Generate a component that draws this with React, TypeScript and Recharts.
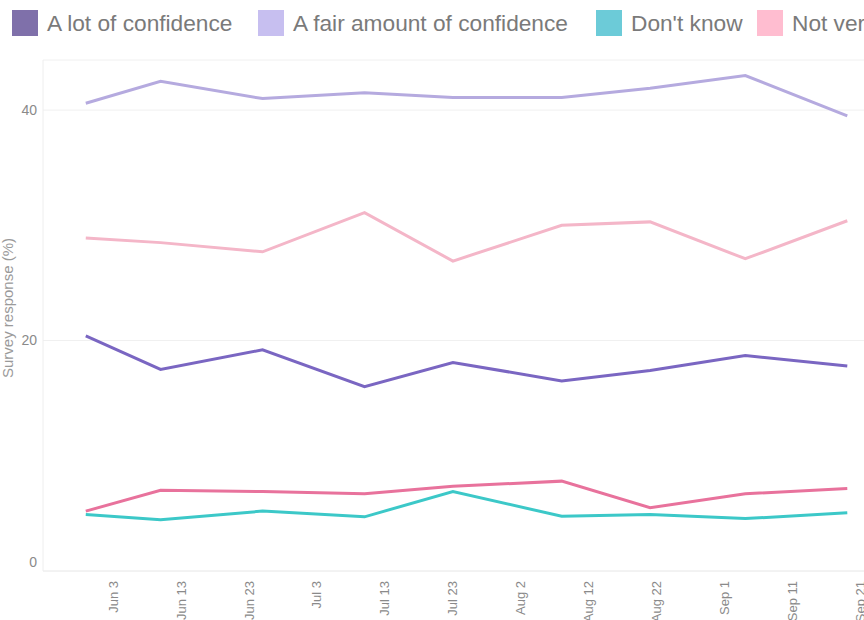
import React from 'react'
import { LineChart, Line, XAxis, YAxis, CartesianGrid, Label } from 'recharts'

const surveyDates = ['2020-05-30', '2020-06-10', '2020-06-25', '2020-07-10', '2020-07-23', '2020-08-08', '2020-08-21', '2020-09-04', '2020-09-19']
const aLot = [20.4, 17.5, 19.2, 16.0, 18.1, 16.5, 17.4, 18.7, 17.8]
const fairAmount = [40.6, 42.5, 41.0, 41.5, 41.1, 41.1, 41.9, 43.0, 39.5]
const dontKnow = [4.9, 4.45, 5.2, 4.7, 6.9, 4.75, 4.9, 4.55, 5.05]
const notVery = [28.9, 28.5, 27.7, 31.1, 26.9, 30.0, 30.3, 27.1, 30.4]
const notAtAll = [5.2, 7.0, 6.9, 6.7, 7.35, 7.8, 5.5, 6.7, 7.15]

const tickDates = ['2020-06-03', '2020-06-13', '2020-06-23', '2020-07-03', '2020-07-13', '2020-07-23', '2020-08-02', '2020-08-12', '2020-08-22', '2020-09-01', '2020-09-11', '2020-09-21']
const yTicks = [0, 20, 40]

const MONTHS = ['Jan', 'Feb', 'Mar', 'Apr', 'May', 'Jun', 'Jul', 'Aug', 'Sep', 'Oct', 'Nov', 'Dec']
const toMs = (s: string) => Date.parse(s + 'T00:00:00Z')
const fmtDate = (ms: number) => {
    const d = new Date(ms)
    return `${MONTHS[d.getUTCMonth()]} ${d.getUTCDate()}`
}

const series = [
    { key: 'aLot', name: 'A lot of confidence', values: aLot, stroke: '#7a66c2', swatch: '#7f70aa', legendX: 12 },
    { key: 'fairAmount', name: 'A fair amount of confidence', values: fairAmount, stroke: '#b5aadf', swatch: '#c7bff0', legendX: 258 },
    { key: 'dontKnow', name: "Don't know", values: dontKnow, stroke: '#3cc8c8', swatch: '#6ccbd8', legendX: 596 },
    { key: 'notVery', name: 'Not very much confidence', values: notVery, stroke: '#f4b6c8', swatch: '#ffbdd0', legendX: 757 },
    { key: 'notAtAll', name: 'No confidence at all', values: notAtAll, stroke: '#e8729c', swatch: '#ee86aa', legendX: 1060 },
]

const data = surveyDates.map((d, i) => {
    const row: any = { date: toMs(d) }
    series.forEach(s => { row[s.key] = s.values[i] })
    return row
})

const xDomain = [Date.UTC(2020, 4, 23, 17), Date.UTC(2020, 8, 21, 11)]

const XTick = ({ x, y, payload }: any) => (
    <text x={x} y={y + 2} dy="0.35em" textAnchor="end" fill="#8a8a8a" fontSize={13}
        fontFamily="'Liberation Sans', Arial, sans-serif" transform={`rotate(-90, ${x}, ${y + 2})`}>
        {fmtDate(payload.value)}
    </text>
)

const YTick = ({ x, y, payload }: any) => (
    <text x={x} y={payload.value === 0 ? y - 9 : y} dy="0.35em" textAnchor="end" fill="#8a8a8a" fontSize={14}
        fontFamily="'Liberation Sans', Arial, sans-serif">
        {payload.value}
    </text>
)

export default function App() {
    return (
        <div style={{ position: 'absolute', left: 0, top: 0, width: 864, height: 620, overflow: 'hidden', background: '#fff' }}>
            <div style={{ position: 'absolute', left: 0, top: 10, width: 864, height: 26, overflow: 'hidden', whiteSpace: 'nowrap', fontFamily: "'Liberation Sans', Arial, sans-serif", fontSize: 22.7, color: '#7a7a7a' }}>
                {series.map(s => (
                    <div key={s.key} style={{ position: 'absolute', left: s.legendX, top: 0, height: 26, display: 'flex', alignItems: 'center' }}>
                        <span style={{ display: 'inline-block', width: 26, height: 26, background: s.swatch, marginRight: 9 }} />
                        <span>{s.name}</span>
                    </div>
                ))}
            </div>
            <LineChart width={864} height={620} data={data} margin={{ top: 60, right: 0, bottom: 0, left: 0 }}>
                <CartesianGrid vertical={false} stroke="#f0f0f0" />
                <XAxis
                    dataKey="date"
                    type="number"
                    scale="time"
                    domain={xDomain}
                    allowDataOverflow
                    ticks={tickDates.map(toMs)}
                    tick={<XTick />}
                    tickLine={false}
                    axisLine={{ stroke: '#eeeeee' }}
                    height={49}
                    interval={0}
                />
                <YAxis
                    domain={[0, 44.35]}
                    ticks={yTicks}
                    allowDataOverflow
                    tick={<YTick />}
                    tickLine={false}
                    tickSize={6}
                    tickMargin={0}
                    axisLine={{ stroke: '#eeeeee' }}
                    width={43}
                >
                    <Label
                        content={() => (
                            <text x={8} y={308} dy="0.35em" textAnchor="middle" fill="#9a9a9a" fontSize={15}
                                fontFamily="'Liberation Sans', Arial, sans-serif" transform="rotate(-90, 8, 308)">
                                Survey response (%)
                            </text>
                        )}
                    />
                </YAxis>
                {series.map(s => (
                    <Line key={s.key} type="linear" dataKey={s.key} name={s.name} stroke={s.stroke} strokeWidth={3}
                        dot={false} activeDot={false} isAnimationActive={false} />
                ))}
            </LineChart>
        </div>
    )
}
